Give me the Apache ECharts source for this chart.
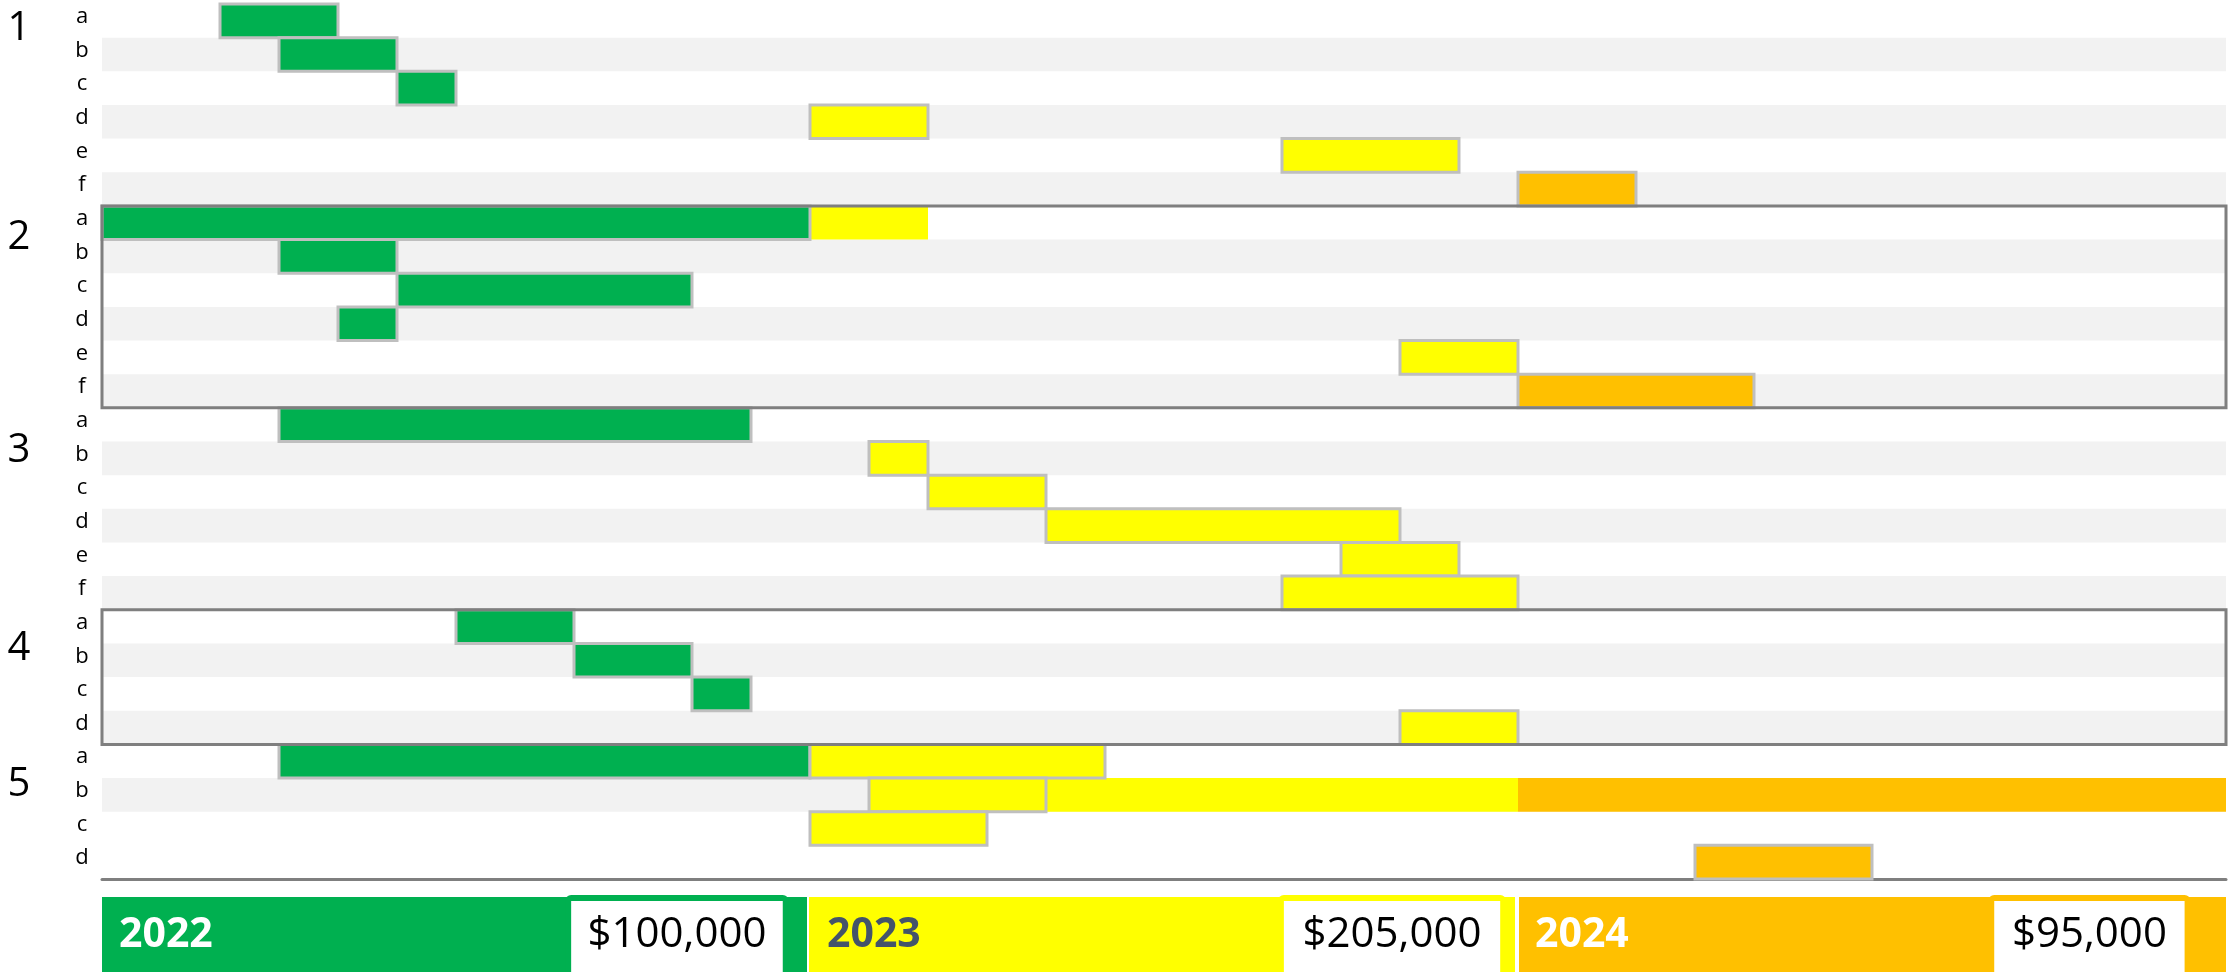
<!DOCTYPE html>
<html>
<head>
<meta charset="utf-8">
<script src="https://cdn.jsdelivr.net/npm/echarts@6/dist/echarts.min.js"></script>
<style>
  html, body { margin: 0; padding: 0; background: #ffffff; }
  #chart { width: 2229px; height: 972px; }
</style>
</head>
<body>
<div id="chart"></div>
<script>
// ---- data ----
const rowLabels = ['a','b','c','d','e','f', 'a','b','c','d','e','f', 'a','b','c','d','e','f', 'a','b','c','d', 'a','b','c','d'];
const groupLabels = ['1', '2', '3', '4', '5'];
const groupSizes = [6, 6, 6, 4, 4];
const years = ['2022', '2023', '2024'];
const yearBudgets = [100000, 205000, 95000];

// tasks: [row, start month, end month]; months counted from Jan 2022 (0..36)
const tasks2022 = [[0,2,4],[1,3,5],[2,5,6],[6,0,12],[7,3,5],[8,5,10],[9,4,5],[12,3,11],[18,6,8],[19,8,10],[20,10,11],[22,3,12]];
const tasks2023 = [[3,12,14],[4,20,23],[10,22,24],[13,13,14],[14,14,16],[15,16,22],[16,21,23],[17,20,24],[21,22,24],[22,12,17],[23,13,16],[24,12,15]];
const tasks2024 = [[5,24,26],[11,24,28],[25,27,30]];
// continuation spans (drawn without outline)
const spill2023 = [[6,12,14],[23,16,24]];
const spill2024 = [[23,24,36]];

// ---- styling / layout ----
const YEAR_COLORS = ['#00B050', '#FFFF00', '#FFC000'];
const YEAR_TEXT = ['#FFFFFF', '#44546A', '#FFFFFF'];
const OUTLINE = '#BFBFBF';
const FRAME = '#7F7F7F';
const FONT = '"Open Sans", "Noto Sans", sans-serif';
const BOXED_GROUPS = [1, 3];
const STRIPED_ROWS = [1,3,5,7,9,11,13,15,17,19,21,23];
const NUM_OFFSET = [0.72, 0.93, 1.28, 1.16, 1.19];
const BUDGET_BOX = [[7.85, 11.64], [19.93, 23.80], [31.97, 35.40]];

const groupRanges = [];
{
  let r = 0;
  groupSizes.forEach((n, g) => { groupRanges.push([g, r, r + n - 1]); r += n; });
}

function barRenderer(color, outlined) {
  return function (params, api) {
    const row = api.value(0);
    const a = api.coord([api.value(1), row]);
    const b = api.coord([api.value(2), row]);
    const h = api.size([0, 1])[1];
    return {
      type: 'rect',
      shape: { x: a[0], y: a[1] - h / 2, width: b[0] - a[0], height: h },
      style: outlined
        ? { fill: color, stroke: OUTLINE, lineWidth: 3 }
        : { fill: color }
    };
  };
}

function barSeries(name, data, color, outlined, z) {
  return {
    name, type: 'custom', xAxisIndex: 0, yAxisIndex: 0,
    data, encode: { y: 0, x: [1, 2] }, z,
    renderItem: barRenderer(color, outlined), silent: true
  };
}

const chart = echarts.init(document.getElementById('chart'), null, { renderer: 'canvas' });

const option = {
  animation: false,
  backgroundColor: '#ffffff',
  grid: [
    { left: 102, top: 4, width: 2124, height: 875 },
    { left: 102, top: 897, width: 2124, height: 75 }
  ],
  xAxis: [
    {
      type: 'value', gridIndex: 0, min: 0, max: 36,
      axisLine: { show: true, onZero: false, lineStyle: { color: FRAME, width: 3 } },
      axisTick: { show: false }, axisLabel: { show: false }, splitLine: { show: false }
    },
    { type: 'value', gridIndex: 1, min: 0, max: 36, show: false }
  ],
  yAxis: [
    {
      type: 'category', gridIndex: 0, inverse: true, data: rowLabels,
      axisLine: { show: false }, axisTick: { show: false }, splitLine: { show: false },
      axisLabel: { show: false }
    },
    { type: 'value', gridIndex: 1, min: 0, max: 1, show: false }
  ],
  series: [
    // alternating row bands
    {
      type: 'custom', xAxisIndex: 0, yAxisIndex: 0, z: 1, silent: true,
      data: STRIPED_ROWS.map(r => [r]), encode: { y: 0 },
      renderItem(params, api) {
        const row = api.value(0);
        const a = api.coord([0, row]);
        const b = api.coord([36, row]);
        const h = api.size([0, 1])[1];
        return { type: 'rect', shape: { x: a[0], y: a[1] - h / 2, width: b[0] - a[0], height: h }, style: { fill: '#F2F2F2' } };
      }
    },
    // sub-task letters
    {
      type: 'custom', xAxisIndex: 0, yAxisIndex: 0, z: 5, silent: true,
      data: rowLabels.map((t, i) => [i]), encode: { y: 0 },
      renderItem(params, api) {
        const row = api.value(0);
        const p = api.coord([0, row]);
        return {
          type: 'text', x: p[0] - 20, y: p[1] - 4,
          style: { text: rowLabels[row], font: '22px ' + FONT, fill: '#000000', align: 'center', verticalAlign: 'middle' }
        };
      }
    },
    barSeries('2023 cont.', spill2023, YEAR_COLORS[1], false, 2),
    barSeries('2024 cont.', spill2024, YEAR_COLORS[2], false, 2),
    barSeries('2022', tasks2022, YEAR_COLORS[0], true, 3),
    barSeries('2023', tasks2023, YEAR_COLORS[1], true, 3),
    barSeries('2024', tasks2024, YEAR_COLORS[2], true, 3),
    // group frames and group numbers
    {
      type: 'custom', xAxisIndex: 0, yAxisIndex: 0, z: 5, silent: true,
      data: groupRanges, encode: { y: 1 },
      renderItem(params, api) {
        const g = api.value(0);
        const first = api.value(1), last = api.value(2);
        const h = api.size([0, 1])[1];
        const tl = api.coord([0, first]);
        const br = api.coord([36, last]);
        const top = tl[1] - h / 2, bottom = br[1] + h / 2;
        const children = [{
          type: 'text',
          x: tl[0] - 83, y: top + NUM_OFFSET[g] * h,
          style: {
            text: groupLabels[g], font: '40px ' + FONT, fill: '#000000',
            align: 'center', verticalAlign: 'middle'
          }
        }];
        if (BOXED_GROUPS.indexOf(g) >= 0) {
          children.push({
            type: 'rect',
            shape: { x: tl[0], y: top, width: br[0] - tl[0], height: bottom - top },
            style: { fill: null, stroke: FRAME, lineWidth: 3 }
          });
        }
        return { type: 'group', children };
      }
    },
    // yearly budget strip
    {
      type: 'custom', xAxisIndex: 1, yAxisIndex: 1, z: 5, silent: true,
      data: years.map((y, i) => [i, i * 12, (i + 1) * 12]), encode: { x: [1, 2] },
      renderItem(params, api) {
        const i = api.value(0);
        const a = api.coord([api.value(1), 1]);
        const b = api.coord([api.value(2), 0]);
        const top = a[1];
        const x0 = a[0] + (i === 2 ? 1 : (i === 1 ? -1 : 0));
        const x1 = b[0] - (i < 2 ? 3 : 0);
        const bx0 = api.coord([BUDGET_BOX[i][0], 0])[0];
        const bx1 = api.coord([BUDGET_BOX[i][1], 0])[0];
        const midY = top + 38;
        return {
          type: 'group',
          children: [
            { type: 'rect', shape: { x: x0, y: top, width: x1 - x0, height: b[1] - top + 2 }, style: { fill: YEAR_COLORS[i] } },
            {
              type: 'text', x: a[0] + 17, y: midY,
              style: { text: years[i], font: 'bold 41px ' + FONT, fill: YEAR_TEXT[i], align: 'left', verticalAlign: 'middle' }
            },
            {
              type: 'rect', shape: { x: bx0 + 3, y: top + 1, width: bx1 - bx0 - 6, height: 100, r: 3 },
              style: { fill: '#FFFFFF', stroke: YEAR_COLORS[i], lineWidth: 6 }
            },
            {
              type: 'text', x: (bx0 + bx1) / 2, y: midY,
              style: {
                text: '$' + yearBudgets[i].toLocaleString('en-US'), font: '42px ' + FONT,
                fill: '#000000', align: 'center', verticalAlign: 'middle'
              }
            }
          ]
        };
      }
    }
  ]
};

chart.setOption(option);
</script>
</body>
</html>
